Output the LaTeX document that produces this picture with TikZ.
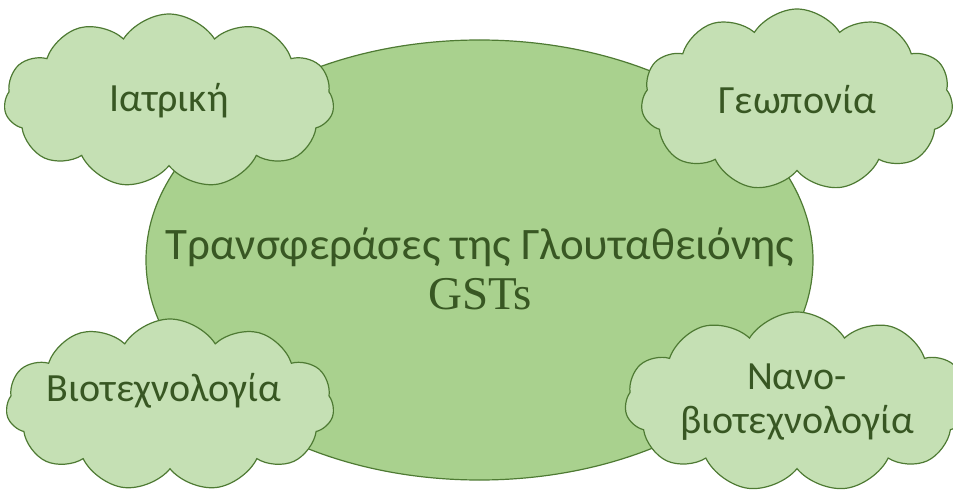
\documentclass[tikz,border=0pt]{standalone}
\usepackage{fontspec}
\setmainfont{Carlito}
\newfontfamily\gstfont{Liberation Serif}
\usetikzlibrary{shapes.geometric,shapes.symbols}
\definecolor{bigfill}{HTML}{A9D18E}
\definecolor{puffill}{HTML}{C5E0B4}
\definecolor{rimgreen}{HTML}{4E7A33}
\definecolor{txtgreen}{HTML}{385723}
\begin{document}
\begin{tikzpicture}[x=1pt,y=1pt,
    core/.style = {ellipse, draw=rimgreen, fill=bigfill, line width=1.2pt,
                   minimum width=667pt, minimum height=440pt, inner sep=0pt},
    puff/.style = {cloud, cloud puffs=11, cloud puff arc=115, cloud ignores aspect,
                   draw=rimgreen, fill=puffill, line width=1.2pt,
                   text=txtgreen, align=center, font=\fontsize{40}{44}\selectfont},
    lbl/.style  = {text=txtgreen, align=center, font=\fontsize{40}{44}\selectfont}]
    \useasboundingbox (0,0) rectangle (953,491);

    % central ellipse
    \node[core] (gst) at (479.5,231) {};
    \node[lbl, anchor=center] (title) at (480,222)
        {\fontsize{45}{50}\selectfont Τρανσφεράσες της Γλουταθειόνης\\[6pt]
         {\gstfont\fontsize{47}{50}\selectfont GSTs}};

    % the four fields
    \node[puff, minimum width=330pt, minimum height=174pt] (med) at (169,390) {Ιατρική};
    \node[puff, minimum width=312pt, minimum height=182pt] (agr) at (797,391) {Γεωπονία};
    \node[puff, minimum width=328pt, minimum height=172pt] (bio) at (170,86) {};
    \node[lbl] (biotxt) at ([shift={(-6,14)}]bio.center) {Βιοτεχνολογία};
    \node[puff, minimum width=312pt, minimum height=180pt] (nano) at (797,89)
        {Νανο-\\βιοτεχνολογία};
\end{tikzpicture}
\end{document}
